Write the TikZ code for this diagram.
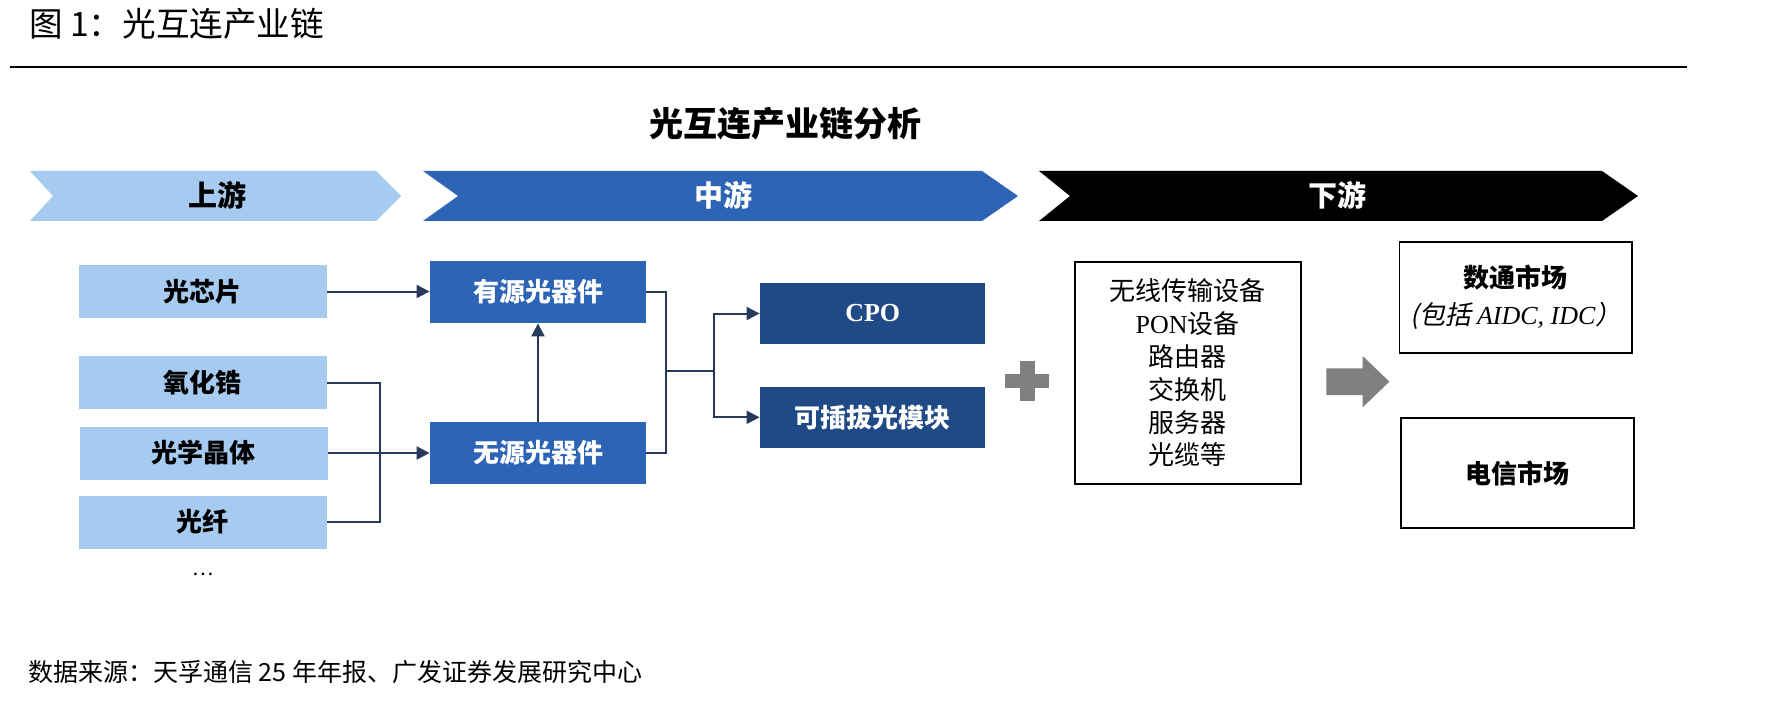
\documentclass[tikz,border=0pt]{standalone}
\usepackage{fontspec}
\setmainfont{Noto Sans CJK SC}
\newfontfamily\latinserif{Liberation Serif}
\newfontfamily\cjkslant{Noto Sans CJK SC}[FakeSlant=0.2]
\usetikzlibrary{arrows.meta}

\definecolor{upblue}{RGB}{166,202,240}
\definecolor{midblue}{RGB}{46,100,182}
\definecolor{darkblue}{RGB}{31,74,134}
\definecolor{linknavy}{RGB}{40,58,92}
\definecolor{plusgrey}{RGB}{128,128,128}

\tikzset{
  boxfont/.style={font=\fontsize{13}{15}\selectfont\bfseries},
  lightbox/.style={boxfont, fill=upblue, minimum width=124pt, minimum height=26.5pt, inner sep=0pt},
  midbox/.style={boxfont, fill=midblue, text=white, minimum width=108pt, minimum height=31pt, inner sep=0pt},
  darkbox/.style={boxfont, fill=darkblue, text=white, minimum width=112.7pt, minimum height=30.8pt, inner sep=0pt},
  framebox/.style={draw=black, line width=0.9pt, fill=white, inner sep=0pt, align=center},
  chevtext/.style={font=\fontsize{14.5}{16}\selectfont\bfseries},
  link/.style={draw=linknavy, line width=1pt},
  arrowlink/.style={link, -{Triangle[length=6.5pt,width=6.5pt]}},
}

\begin{document}
\begin{tikzpicture}[x=0.5pt,y=0.5pt,yscale=-1,xscale=1]
\useasboundingbox (0,0) rectangle (1790,701);

% Title and rule
\node[anchor=west, font=\fontsize{16.8}{18}\selectfont] (title) at (22,23.5) {图 1：光互连产业链};
\draw[line width=1pt] (9.6,66.7) -- (1687,66.7);
\node[font=\fontsize{17}{19}\selectfont\bfseries] (subtitle) at (785.4,123.3) {光互连产业链分析};

% Chevrons
\fill[upblue] (30,171) -- (376,171) -- (401,196) -- (376,221) -- (30,221) -- (53,196) -- cycle;
\fill[midblue] (423,171) -- (982,171) -- (1018,196) -- (982,221) -- (423,221) -- (458,196) -- cycle;
\fill[black] (1039,171) -- (1602,171) -- (1638,196) -- (1602,221) -- (1039,221) -- (1070,196) -- cycle;
\node[chevtext] (up) at (217,195) {上游};
\node[chevtext, text=white] (mid) at (723,195) {中游};
\node[chevtext, text=white] (down) at (1337,195) {下游};

% Upstream boxes
\node[lightbox] (chip) at (202.5,291.5) {光芯片};
\node[lightbox] (zirc) at (202.5,382.7) {氧化锆};
\node[lightbox] (crystal) at (203.5,453) {光学晶体};
\node[lightbox] (fiber) at (202.5,522) {光纤};
\node (more) at (203,574) {…};

% Midstream boxes
\node[midbox] (active) at (538,292) {有源光器件};
\node[midbox] (passive) at (538,453) {无源光器件};
\node[darkbox] (cpo) at (872.7,313.5) {\latinserif\bfseries CPO};
\node[darkbox] (pluggable) at (872.7,417.3) {可插拔光模块};

% Connectors
\coordinate (bus) at (380,0);
\coordinate (jct) at (666,371);
\coordinate (fork) at (714,371);
\draw[arrowlink] (chip.east) -- (chip.east -| active.west);
\draw[link] (zirc.east) -| (bus |- fiber.east) -- (fiber.east);
\draw[arrowlink] (crystal.east) -- (passive.west);
\draw[arrowlink] (passive.north) -- (active.south);
\draw[link] (active.east) -| (jct) |- (passive.east);
\draw[link] (jct) -- (fork);
\draw[arrowlink] (fork) |- (cpo.west);
\draw[arrowlink] (fork) |- (pluggable.west);

% Plus sign
\fill[plusgrey] (1005,373.5) rectangle (1049,388);
\fill[plusgrey] (1020,360.7) rectangle (1034.5,400.7);

% Downstream list
\node[framebox, minimum width=113pt, minimum height=111.3pt, font=\fontsize{13}{16.4}\selectfont] (devices) at (1187.7,373)
  {无线传输设备\\{\latinserif PON}设备\\路由器\\交换机\\服务器\\光缆等};

% Grey arrow
\fill[plusgrey] (1326.4,368.3) -- (1362.7,368.3) -- (1362.7,356) -- (1389.4,381.7) -- (1362.7,407.3) -- (1362.7,395) -- (1326.4,395) -- cycle;

% Markets
\node[framebox, minimum width=116.4pt, minimum height=55.2pt, font=\fontsize{13}{18.3}\selectfont] (datacom) at (1515.9,297.5)
  {\bfseries 数通市场\\{\cjkslant (包括 }{\latinserif\itshape AIDC, IDC}{\cjkslant ）}};
\node[framebox, minimum width=116.4pt, minimum height=55.2pt, font=\fontsize{13}{15}\selectfont\bfseries] (telecom) at (1517.6,473) {电信市场};

% Source
\node[anchor=west, font=\fontsize{12.5}{14}\selectfont] (source) at (21,672.5) {数据来源：天孚通信 25 年年报、广发证券发展研究中心};
\end{tikzpicture}
\end{document}
